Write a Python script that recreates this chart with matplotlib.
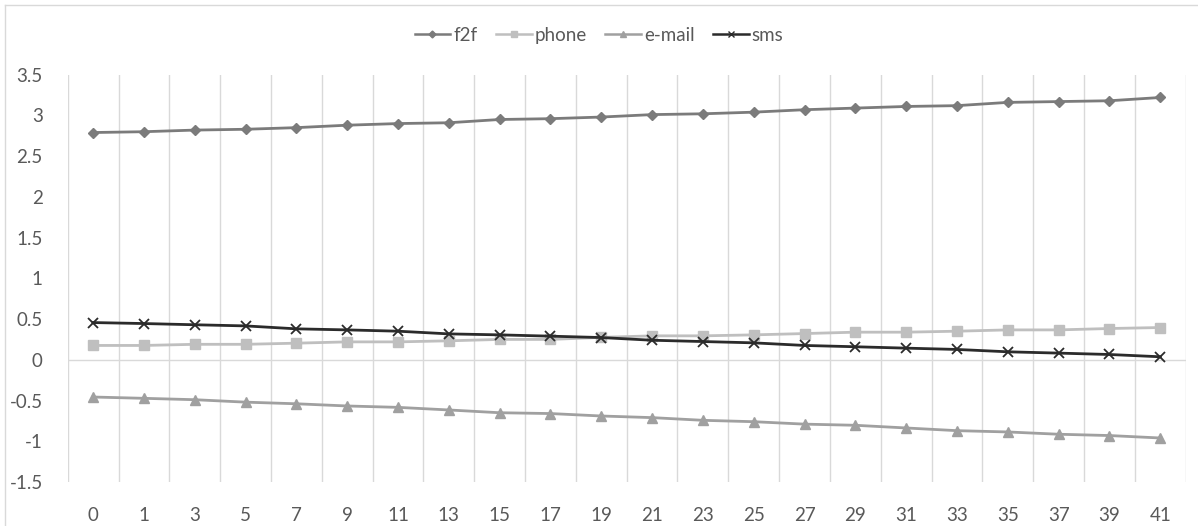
import numpy as np
import matplotlib.pyplot as plt
from matplotlib.lines import Line2D

plt.rcParams['font.family'] = ['Lato', 'DejaVu Sans']

categories = ['0', '1', '3', '5', '7', '9', '11', '13', '15', '17', '19',
              '21', '23', '25', '27', '29', '31', '33', '35', '37', '39', '41']

f2f = [2.79, 2.80, 2.82, 2.83, 2.85, 2.88, 2.90, 2.91, 2.95, 2.96, 2.98,
       3.01, 3.02, 3.04, 3.07, 3.09, 3.11, 3.12, 3.16, 3.17, 3.18, 3.22]
phone = [0.176, 0.176, 0.19, 0.19, 0.204, 0.22, 0.22, 0.233, 0.25, 0.25, 0.275,
         0.294, 0.294, 0.306, 0.322, 0.339, 0.339, 0.351, 0.367, 0.367, 0.384, 0.396]
email = [-0.457, -0.473, -0.49, -0.52, -0.54, -0.567, -0.584, -0.616, -0.65, -0.66, -0.69,
         -0.71, -0.743, -0.76, -0.79, -0.804, -0.837, -0.87, -0.886, -0.914, -0.93, -0.96]
sms = [0.457, 0.445, 0.43, 0.416, 0.38, 0.367, 0.351, 0.318, 0.306, 0.29, 0.273,
       0.24, 0.224, 0.208, 0.176, 0.16, 0.143, 0.127, 0.098, 0.082, 0.065, 0.037]

fig = plt.figure(figsize=(11.98, 5.26), dpi=100)
ax = fig.add_axes([0.0565, 0.0837, 0.9332, 0.7743])

x = np.arange(len(categories))
series = [
    ('f2f', f2f, '#7b7b7b', 'D', 5, 2.0),
    ('phone', phone, '#bfbfbf', 's', 7, 2.0),
    ('e-mail', email, '#a0a0a0', '^', 7, 2.0),
    ('sms', sms, '#2b2b2b', 'x', 7, 2.0),
]
for name, vals, col, mk, ms, lw in series:
    ax.plot(x, vals, color=col, marker=mk, markersize=ms, linewidth=lw,
            markeredgewidth=1.3 if mk == 'x' else 1.0, label=name, zorder=3)

ax.set_xlim(-0.5, len(categories) - 0.5)
ax.set_ylim(-1.5, 3.5)
ax.set_yticks(np.arange(-1.5, 3.51, 0.5))
ax.set_yticklabels(['-1.5', '-1', '-0.5', '0', '0.5', '1', '1.5', '2', '2.5', '3', '3.5'])
ax.set_xticks(x)
ax.set_xticklabels(categories)

# category boundary gridlines
for b in np.arange(-0.5, len(categories), 1.0):
    ax.axvline(b, color='#d9d9d9', linewidth=1.0, zorder=1)
ax.axhline(0, color='#d9d9d9', linewidth=1.0, zorder=1)

for s in ax.spines.values():
    s.set_visible(False)
ax.tick_params(axis='both', length=0, labelsize=13.5, colors='#595959')
ax.tick_params(axis='y', pad=18)
ax.tick_params(axis='x', pad=18)

handles = [Line2D([], [], color=c, marker=m, markersize=ms * 0.7, linewidth=1.8,
                  markeredgewidth=1.0)
           for _, _, c, m, ms, _ in series]
fig.legend(handles, [s[0] for s in series], loc='center', bbox_to_anchor=(0.5, 0.933),
           ncol=4, frameon=False, fontsize=13.5, labelcolor='#595959',
           handlelength=1.9, handletextpad=0.15, columnspacing=1.0)

# chart area border
fig.add_artist(Line2D([5 / 1198, 5 / 1198], [0, 1 - 5 / 526], color='#d9d9d9', linewidth=1.0))
fig.add_artist(Line2D([5 / 1198, 1], [1 - 5 / 526, 1 - 5 / 526], color='#d9d9d9', linewidth=1.0))

fig.savefig('out.png', dpi=100)
